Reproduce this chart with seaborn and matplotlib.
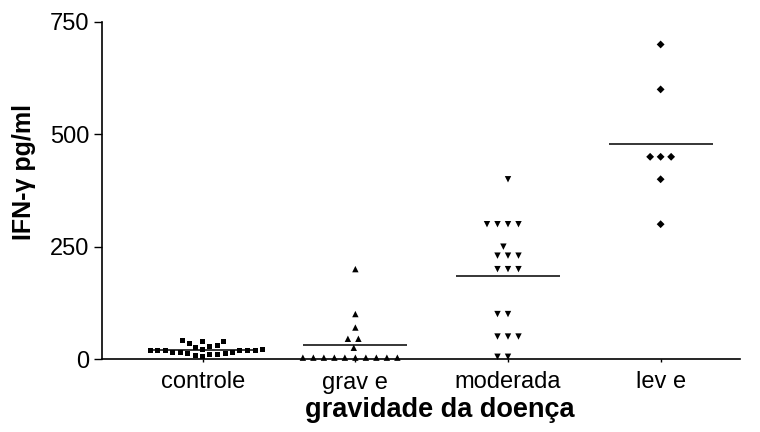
import matplotlib
matplotlib.use("Agg")
import matplotlib.pyplot as plt
import numpy as np
import pandas as pd
import seaborn as sns

# IFN-gamma concentration (pg/ml) per disease-severity group
categories = ["controle", "grav e", "moderada", "lev e"]
controle = [42, 40, 38, 35, 30, 28, 25, 22, 22, 20, 20, 20,
            18, 18, 18, 15, 15, 15, 12, 12, 10, 10, 8, 5]
grave = [200, 100, 70, 45, 45, 25, 3, 3, 3, 3, 3, 3, 3, 3, 3, 3]
moderada = [400, 300, 300, 300, 300, 250, 230, 230, 230, 200, 200, 200,
            100, 100, 50, 50, 50, 5, 5]
leve = [700, 600, 450, 450, 450, 400, 300]
y_ticks = [0, 250, 500, 750]

groups = [controle, grave, moderada, leve]
markers = ["s", "^", "v", "D"]
msizes = [3.6, 4.6, 4.6, 4.0]
gaps = [1.6, 2.6, 2.6, 3.2]

df = pd.DataFrame({
    "grupo": np.repeat(categories, [len(g) for g in groups]),
    "ifn": np.concatenate(groups).astype(float),
})

sns.set_style("ticks")
plt.rcParams["font.family"] = ["Liberation Sans", "DejaVu Sans"]
plt.rcParams["text.color"] = "black"
plt.rcParams["axes.labelcolor"] = "black"

fig = plt.figure(figsize=(7.6, 4.32), dpi=100)
ax = fig.add_axes([102 / 760, 1 - 359 / 432, 638 / 760, 337 / 432])

for cat, mk, ms, gp in zip(categories, markers, msizes, gaps):
    sub = df[df["grupo"] == cat]
    sns.swarmplot(data=sub, x="grupo", y="ifn", order=categories,
                  marker=mk, size=ms, color="black", edgecolor="none",
                  linewidth=gp, ax=ax, zorder=3)

# let markers sitting on the baseline show in full
for coll in ax.collections:
    if len(coll.get_offsets()) > 0:
        coll.set_clip_on(False)

# group mean as a horizontal bar
means = df.groupby("grupo", sort=False)["ifn"].mean()
for i, cat in enumerate(categories):
    ax.hlines(means[cat], i - 0.34, i + 0.34, color="black", lw=1.1, zorder=2)

ax.set_xlim(-0.66, 3.52)
ax.set_ylim(0, 750)
ax.set_yticks(y_ticks)
ax.set_xlabel("")
ax.set_ylabel("")
ax.tick_params(axis="y", length=6, width=1, pad=3, labelsize=17,
               colors="black", labelcolor="black")
ax.tick_params(axis="x", length=2, width=1, pad=7, labelsize=17,
               colors="black", labelcolor="black")
sns.despine(ax=ax)
for side in ("left", "bottom"):
    ax.spines[side].set_linewidth(1.2)
    ax.spines[side].set_color("black")

fig.text(440 / 760, 1 - 410 / 432, "gravidade da doença", ha="center",
         va="center", fontsize=19.5, fontweight="bold", color="black")
fig.text(24 / 760, 1 - 172 / 432, "IFN-γ pg/ml", ha="center", va="center",
         rotation=90, fontsize=18, fontweight="bold", color="black")

fig.savefig("out.png", dpi=100)
